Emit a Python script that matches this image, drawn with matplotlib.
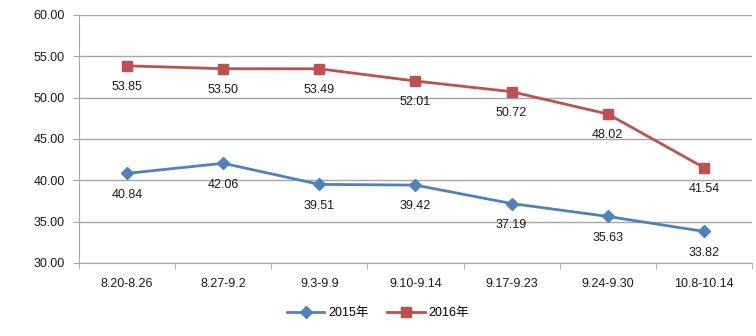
import matplotlib.pyplot as plt
import numpy as np

plt.rcParams['font.family'] = ['Liberation Sans', 'Noto Sans CJK SC', 'DejaVu Sans']

weeks = ['8.20-8.26', '8.27-9.2', '9.3-9.9', '9.10-9.14', '9.17-9.23', '9.24-9.30', '10.8-10.14']
y2015 = [40.84, 42.06, 39.51, 39.42, 37.19, 35.63, 33.82]
y2016 = [53.85, 53.50, 53.49, 52.01, 50.72, 48.02, 41.54]

blue = '#4F81BD'
red = '#C0504D'
grid_c = '#A6A6A6'
txt = '#1a1a1a'

fig = plt.figure(figsize=(7.56, 3.36), dpi=100)
ax = fig.add_axes([0.1045, 0.2173, 0.8902, 0.7381])

x = np.arange(len(weeks))
ax.plot(x, y2015, color=blue, lw=2, marker='D', ms=6, label='2015年')
ax.plot(x, y2016, color=red, lw=2, marker='s', ms=7, label='2016年')

for xi, v in zip(x, y2015):
    ax.annotate(f'{v:.2f}', (xi, v), xytext=(0, -11), textcoords='offset points',
                ha='center', va='top', fontsize=9, color=txt)
for xi, v in zip(x, y2016):
    ax.annotate(f'{v:.2f}', (xi, v), xytext=(0, -11), textcoords='offset points',
                ha='center', va='top', fontsize=9, color=txt)

ax.set_xlim(-0.5, len(weeks) - 0.5)
ax.set_ylim(30, 60)
ax.set_yticks(np.arange(30, 61, 5))
ax.set_yticklabels([f'{v:.2f}' for v in np.arange(30, 61, 5)], fontsize=9, color=txt)
ax.set_xticks(x)
ax.set_xticklabels(weeks, fontsize=9, color=txt)
ax.set_xticks(np.arange(-0.5, len(weeks)), minor=True)
ax.tick_params(axis='x', which='major', length=0, pad=11)
ax.tick_params(axis='x', which='minor', length=4, color=grid_c)
ax.tick_params(axis='y', length=4, color=grid_c, pad=6)

ax.grid(axis='y', color=grid_c, lw=1)
ax.set_axisbelow(True)
for s in ['top', 'right']:
    ax.spines[s].set_visible(False)
ax.spines['left'].set_color(grid_c)
ax.spines['bottom'].set_color(grid_c)

fig.legend(loc='center', bbox_to_anchor=(0.5, 0.068), ncol=2, frameon=False,
           fontsize=9, handlelength=3, columnspacing=1.5, handletextpad=0.3)

fig.savefig('out.png', dpi=100)
